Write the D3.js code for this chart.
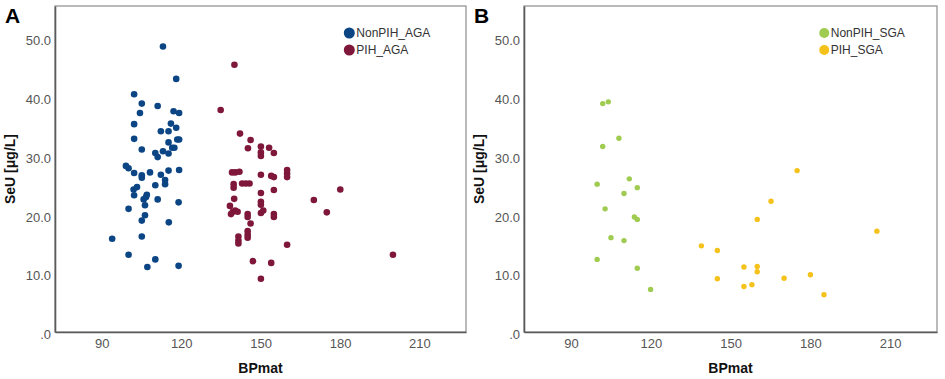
<!DOCTYPE html>
<html>
<head>
<meta charset="utf-8">
<script src="https://cdn.jsdelivr.net/npm/d3@7"></script>
<style>
  body { margin: 0; background: #fff; }
  svg { display: block; font-family: "Liberation Sans", Arial, sans-serif; }
</style>
</head>
<body>
<div id="chart-area"></div>
<script>
// tick values / labels
var xTicks = [90, 120, 150, 180, 210];
var yTicks = [0, 10, 20, 30, 40, 50];
var yTickLabels = [".0", "10.0", "20.0", "30.0", "40.0", "50.0"];

// panel A: [BPmat, SeU]
var nonPIH_AGA = [[113.1,48.9],[118.1,43.4],[102.2,40.8],[105.1,39.2],[111.1,38.8],[104.4,37.6],[117.1,37.9],[119.2,37.6],
  [102.2,35.7],[116.1,35.8],[118.1,35.1],[112.3,34.5],[115.2,34.5],[102.2,33.2],[118.5,33.1],[119.2,33.1],[115.2,32.6],
  [105.1,31.4],[116.6,31.7],[117.4,31.7],[113.1,31.1],[110.2,30.8],[115.2,30.7],[111.1,30.1],[99.1,28.6],[100.1,28.2],
  [102.2,27.4],[105.1,27.0],[105.1,26.6],[108.2,27.5],[112.3,27.1],[115.2,27.8],[119.2,27.9],[113.9,26.2],[113.9,25.5],
  [110.2,25.3],[102.0,24.6],[103.3,25.0],[102.2,23.6],[105.8,22.9],[106.7,23.3],[107.0,23.7],[111.1,22.9],[119.0,22.4],
  [100.1,21.3],[106.3,21.9],[106.3,20.2],[105.1,19.3],[115.3,19.0],[93.9,16.2],[105.1,16.6],[100.1,13.5],[110.2,12.7],
  [107.2,11.4],[119.0,11.6]];
var PIH_AGA = [[140.1,45.8],[134.9,38.1],[142.2,34.1],[146.2,33.0],[145.2,31.6],[150.1,31.9],[150.1,30.9],[150.1,30.3],
  [153.2,31.7],[155.0,30.8],[139.2,27.5],[140.4,27.5],[142.0,27.6],[150.1,27.1],[154.0,26.9],[155.0,26.7],[160.0,27.9],
  [160.0,27.3],[160.0,26.7],[139.8,25.5],[139.8,24.9],[143.0,25.6],[144.4,25.6],[145.8,25.6],[180.1,24.6],[150.1,24.0],
  [155.0,24.5],[140.0,23.0],[170.1,22.8],[150.1,22.5],[150.1,22.0],[138.4,21.8],[139.5,20.8],[140.4,21.0],[141.3,20.8],
  [138.8,20.4],[150.1,20.6],[151.0,21.0],[175.0,20.7],[145.1,20.4],[145.1,19.9],[155.0,20.4],[155.0,19.9],[146.2,18.8],
  [145.1,17.5],[145.1,16.9],[145.1,16.4],[141.6,16.6],[141.6,15.9],[141.6,15.4],[160.0,15.2],[147.1,12.4],[154.0,12.1],
  [150.1,9.4],[200.0,13.5]];

// panel B
var nonPIH_SGA = [[101.9,39.2],[104.0,39.5],[108.0,33.3],[101.9,31.9],[99.8,25.5],[111.9,26.4],[114.9,24.9],[109.9,23.9],
  [102.8,21.3],[113.8,19.9],[114.9,19.5],[105.0,16.4],[109.9,15.9],[99.8,12.7],[114.9,11.2],[119.9,7.6]];
var PIH_SGA = [[139.0,15.0],[175.0,27.8],[165.2,22.6],[160.0,19.5],[205.0,17.5],[145.0,14.2],[155.0,11.4],[160.0,11.5],
  [160.0,10.6],[145.0,9.4],[170.1,9.5],[180.0,10.1],[155.0,8.1],[158.0,8.4],[185.1,6.7]];

var svg = d3.select("#chart-area").append("svg")
    .attr("width", 945)
    .attr("height", 379);

var panels = [
  { letter: "A", left: 55, right: 466, r: 3.3, lr: 5.5,
    series: [
      { name: "NonPIH_AGA", color: "#0c4584", data: nonPIH_AGA },
      { name: "PIH_AGA", color: "#7e1739", data: PIH_AGA }
    ] },
  { letter: "B", left: 524, right: 937, r: 2.7, lr: 5,
    series: [
      { name: "NonPIH_SGA", color: "#9fcb50", data: nonPIH_SGA },
      { name: "PIH_SGA", color: "#f4c21a", data: PIH_SGA }
    ] }
];

panels.forEach(p => {
    var x = d3.scaleLinear().domain([72.3, 227.6]).range([p.left, p.right]);
    // SPSS leaves a hair of room below zero
    var y = d3.scaleLinear().domain([0.35, 55.8]).range([332, 6]);

    var g = svg.append("g");

    // frame
    g.append("rect")
        .attr("x", x.range()[0])
        .attr("y", y.range()[1])
        .attr("width", x.range()[1] - x.range()[0])
        .attr("height", y.range()[0] - y.range()[1])
        .attr("fill", "none")
        .attr("stroke", "#8c8c8c")
        .attr("stroke-width", 1.2);

    // axes (no tick marks, SPSS style)
    var xAxis = g.append("g")
        .attr("transform", `translate(0,${y.range()[0]})`)
        .call(d3.axisBottom(x).tickValues(xTicks).tickSize(0).tickPadding(7));
    var yAxis = g.append("g")
        .attr("transform", `translate(${x.range()[0]},0)`)
        .call(d3.axisLeft(y).tickValues(yTicks).tickSize(0).tickPadding(4)
            .tickFormat((d, i) => yTickLabels[i]));
    [xAxis, yAxis].forEach(a => {
        a.select(".domain").attr("stroke", "#5a5a5a").attr("stroke-width", 1.6);
        a.selectAll("text")
            .attr("fill", "#555")
            .attr("font-size", "13px")
            .attr("font-family", "Liberation Sans, Arial, sans-serif");
    });
    yAxis.selectAll("text").attr("dy", "0.36em");

    // points
    p.series.forEach(s => {
        g.append("g").selectAll("circle")
            .data(s.data)
            .enter()
            .append("circle")
            .attr("cx", d => x(d[0]))
            .attr("cy", d => y(d[1]))
            .attr("r", p.r)
            .attr("fill", s.color);
    });

    // legend
    var lx = x(p.letter === "A" ? 183.5 : 185.2);
    var leg = g.append("g").selectAll("g")
        .data(p.series)
        .enter()
        .append("g")
        .attr("transform", (d, i) => `translate(${lx},${33 + i * 17})`);
    leg.append("circle")
        .attr("r", p.lr)
        .attr("fill", d => d.color);
    leg.append("text")
        .attr("x", p.lr + 1.5)
        .attr("dy", "0.36em")
        .attr("font-size", "12px")
        .attr("fill", "#333")
        .text(d => d.name);

    // axis titles
    g.append("text")
        .attr("x", (x.range()[0] + x.range()[1]) / 2)
        .attr("y", 373)
        .attr("text-anchor", "middle")
        .attr("font-size", "14px")
        .attr("font-weight", "bold")
        .attr("fill", "#111")
        .text("BPmat");
    g.append("text")
        .attr("transform", `translate(${x.range()[0] - 40},${(y.range()[0] + y.range()[1]) / 2}) rotate(-90)`)
        .attr("text-anchor", "middle")
        .attr("font-size", "14px")
        .attr("font-weight", "bold")
        .attr("fill", "#111")
        .text("SeU [μg/L]");

    // panel letter
    g.append("text")
        .attr("x", x.range()[0] - 50)
        .attr("y", 23)
        .attr("font-size", "21px")
        .attr("font-weight", "bold")
        .attr("fill", "#000")
        .text(p.letter);
});
</script>
</body>
</html>
